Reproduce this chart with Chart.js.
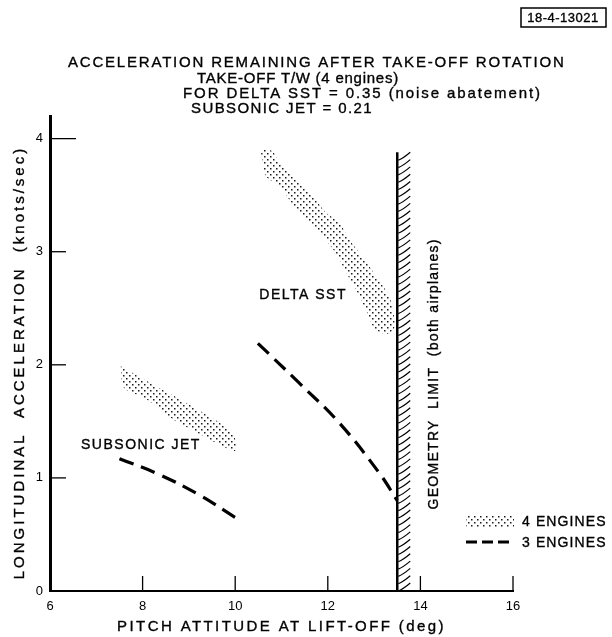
<!DOCTYPE html>
<html>
<head>
<meta charset="utf-8">
<script src="https://cdn.jsdelivr.net/npm/chart.js@4.4.0/dist/chart.umd.min.js"></script>
<style>
  html, body { margin: 0; padding: 0; background: #fff; }
  canvas { display: block; }
</style>
</head>
<body>
<canvas id="grafico" width="612" height="637"></canvas>
<script>
const xTicks = [6, 8, 10, 12, 14, 16];
const yTicks = [0, 1, 2, 3, 4];
const geometryLimit = 13.5;
const geometryTop = 3.88;

// 3 engines - dashed curves
const subsonic3X = [7.5, 8.36, 9.22, 10.0];
const subsonic3Y = [1.17, 1.03, 0.85, 0.65];
const delta3X = [10.49, 11.38, 12.24, 13.1, 13.5];
const delta3Y = [2.19, 1.84, 1.49, 1.05, 0.8];

// 4 engines - stippled bands (outline, clockwise)
const subsonic4X = [7.53, 7.78, 8.29, 8.79, 9.29, 9.8, 9.98, 10.0, 9.73, 9.22, 8.65, 8.07, 7.64, 7.55, 7.53];
const subsonic4Y = [1.99, 1.93, 1.81, 1.70, 1.58, 1.45, 1.37, 1.24, 1.28, 1.39, 1.52, 1.70, 1.78, 1.84, 1.99];
const delta4X = [10.55, 10.8, 10.95, 11.38, 11.66, 11.95, 12.24, 12.46, 12.74, 13.03, 13.32, 13.43, 13.43, 13.25, 13.0, 12.82, 12.6, 12.39, 12.17, 11.81, 11.52, 11.24, 10.95, 10.66, 10.59, 10.55];
const delta4Y = [3.90, 3.89, 3.79, 3.61, 3.50, 3.35, 3.26, 3.11, 2.96, 2.79, 2.61, 2.43, 2.32, 2.27, 2.33, 2.49, 2.67, 2.82, 2.99, 3.17, 3.29, 3.42, 3.58, 3.67, 3.79, 3.90];

const FONT = '"Liberation Sans", Arial, sans-serif';

function pts(xs, ys) {
  return xs.map((x, i) => ({ x: x, y: ys[i] }));
}

function stipple() {
  const c = document.createElement('canvas');
  c.width = 6; c.height = 6;
  const g = c.getContext('2d');
  g.fillStyle = '#1a1a1a';
  g.fillRect(0, 0, 1.5, 1.5);
  g.fillRect(3, 3, 1.5, 1.5);
  return document.getElementById('grafico').getContext('2d').createPattern(c, 'repeat');
}
const dots = stipple();

function txt(ctx, s, x, y, size, spacing, align) {
  ctx.save();
  ctx.font = size + 'px ' + FONT;
  ctx.letterSpacing = (spacing || 0) + 'px';
  ctx.fillStyle = '#000';
  ctx.strokeStyle = '#000';
  ctx.lineWidth = 0.35;
  ctx.textAlign = align || 'left';
  ctx.textBaseline = 'middle';
  ctx.fillText(s, x, y);
  ctx.strokeText(s, x, y);
  ctx.restore();
}

const decor = {
  id: 'decor',
  beforeDatasetsDraw(chart) {
    const ctx = chart.ctx;
    const xs = chart.scales.x, ys = chart.scales.y;
    const gx = xs.getPixelForValue(geometryLimit);
    const top = ys.getPixelForValue(geometryTop);
    const bottom = ys.getPixelForValue(0);
    ctx.save();
    ctx.strokeStyle = '#000';
    ctx.lineWidth = 1.2;
    for (let yy = bottom; yy > top + 6; yy -= 7.3) {
      ctx.beginPath();
      ctx.moveTo(gx + 1, yy);
      ctx.quadraticCurveTo(gx + 6, yy - 2, gx + 13, yy - 8);
      ctx.stroke();
    }
    ctx.lineWidth = 2.5;
    ctx.beginPath();
    ctx.moveTo(gx, top);
    ctx.lineTo(gx, bottom);
    ctx.stroke();
    ctx.restore();
  },
  afterDraw(chart) {
    const ctx = chart.ctx;
    const xs = chart.scales.x, ys = chart.scales.y;
    const a = chart.chartArea;
    ctx.save();
    ctx.strokeStyle = '#000';
    ctx.lineWidth = 1.3;
    // inward ticks
    yTicks.slice(1).forEach(v => {
      const p = ys.getPixelForValue(v);
      ctx.beginPath();
      ctx.moveTo(a.left, p);
      ctx.lineTo(a.left + (v === 4 ? 26 : 16), p);
      ctx.stroke();
    });
    xTicks.slice(1).forEach(v => {
      const p = xs.getPixelForValue(v);
      ctx.beginPath();
      ctx.moveTo(p, a.bottom);
      ctx.lineTo(p, a.bottom - 15);
      ctx.stroke();
    });
    ctx.restore();

    // labels on the plot
    txt(ctx, 'SUBSONIC JET', xs.getPixelForValue(6.67), ys.getPixelForValue(1.29), 14, 1.5);
    txt(ctx, 'DELTA SST', xs.getPixelForValue(10.52), ys.getPixelForValue(2.62), 14, 1.5);
    ctx.save();
    ctx.translate(xs.getPixelForValue(14.3), ys.getPixelForValue(1.92));
    ctx.rotate(-Math.PI / 2);
    txt(ctx, 'GEOMETRY  LIMIT  (both airplanes)', 0, 0, 14, 1.3, 'center');
    ctx.restore();

    // axis titles
    ctx.save();
    ctx.translate(20, ys.getPixelForValue(2.02));
    ctx.rotate(-Math.PI / 2);
    txt(ctx, 'LONGITUDINAL  ACCELERATION  (knots/sec)', 0, 0, 15, 3, 'center');
    ctx.restore();
    txt(ctx, 'PITCH ATTITUDE AT LIFT-OFF (deg)', (a.left + a.right) / 2, 627, 15, 2.4, 'center');

    // title block
    txt(ctx, 'ACCELERATION REMAINING AFTER TAKE-OFF ROTATION', 68, 63, 15, 1.8);
    txt(ctx, 'TAKE-OFF T/W (4 engines)', 197, 79, 15, 0.75);
    txt(ctx, 'FOR DELTA SST = 0.35 (noise abatement)', 183, 94, 15, 1.9);
    txt(ctx, 'SUBSONIC JET = 0.21', 191, 109, 15, 1.4);

    // figure number box
    ctx.save();
    ctx.strokeStyle = '#000';
    ctx.lineWidth = 1.5;
    ctx.strokeRect(521, 8, 85, 19);
    ctx.restore();
    txt(ctx, '18-4-13021', 563, 18, 13, 0.5, 'center');

    // legend
    ctx.save();
    ctx.fillStyle = dots;
    ctx.fillRect(466, 516, 48, 12);
    ctx.strokeStyle = '#000';
    ctx.lineWidth = 3;
    ctx.setLineDash([11, 5]);
    ctx.beginPath();
    ctx.moveTo(466, 542);
    ctx.lineTo(512, 542);
    ctx.stroke();
    ctx.restore();
    txt(ctx, '4 ENGINES', 522, 522, 14, 1.1);
    txt(ctx, '3 ENGINES', 522, 543, 14, 1.1);
  }
};

const band = (xs, ys) => ({
  data: pts(xs, ys),
  borderWidth: 0,
  borderColor: 'rgba(0,0,0,0)',
  backgroundColor: dots,
  fill: 'shape',
  pointRadius: 0,
  tension: 0.3
});
const dashed = (xs, ys) => ({
  data: pts(xs, ys),
  borderColor: '#000',
  borderWidth: 3.2,
  borderDash: [15, 8],
  fill: false,
  pointRadius: 0,
  tension: 0.4
});

new Chart(document.getElementById('grafico'), {
  type: 'line',
  data: {
    datasets: [
      band(subsonic4X, subsonic4Y),
      band(delta4X, delta4Y),
      dashed(subsonic3X, subsonic3Y),
      dashed(delta3X, delta3Y)
    ]
  },
  options: {
    responsive: false,
    animation: false,
    layout: { padding: { top: 116, right: 99, left: 0, bottom: 0 } },
    plugins: { legend: { display: false }, tooltip: { enabled: false } },
    scales: {
      x: {
        type: 'linear', min: 6, max: 16,
        afterBuildTicks: s => { s.ticks = xTicks.map(v => ({ value: v })); },
        afterFit: s => { s.height = 46; },
        grid: { display: false, drawTicks: false },
        border: { display: true, color: '#000', width: 2 },
        ticks: { color: '#000', padding: 8, maxRotation: 0, font: { family: FONT, size: 13 } }
      },
      y: {
        type: 'linear', min: 0, max: 4.2,
        afterBuildTicks: s => { s.ticks = yTicks.map(v => ({ value: v })); },
        afterFit: s => { s.width = 50; },
        grid: { display: false, drawTicks: false },
        border: { display: true, color: '#000', width: 3 },
        ticks: { color: '#000', padding: 7, font: { family: FONT, size: 13 } }
      }
    }
  },
  plugins: [decor]
});
</script>
</body>
</html>
